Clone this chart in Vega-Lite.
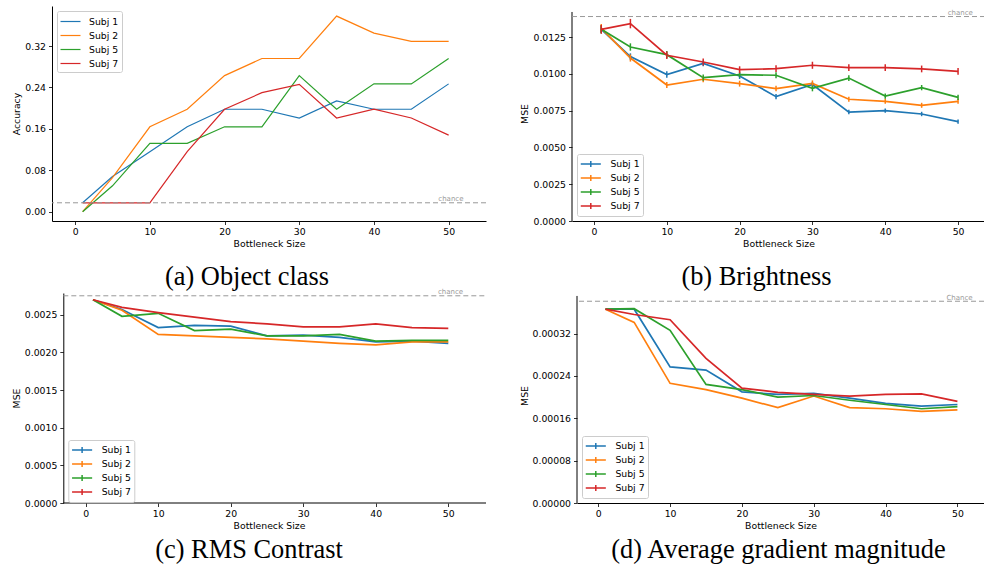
{
  "$schema": "https://vega.github.io/schema/vega-lite/v6.json",
  "padding": {"top": 6, "left": 12, "right": 0, "bottom": 0},
  "background": "white",
  "config": {
    "view": {"stroke": null},
    "font": "DejaVu Sans",
    "axis": {"labelFont": "DejaVu Sans", "labelFontSize": 9.3, "labelColor": "#000", "titleFont": "DejaVu Sans", "titleFontSize": 9.3, "titleFontWeight": "normal", "titleColor": "#000", "domainColor": "#000", "tickColor": "#000", "tickSize": 3.5, "grid": false, "labelPadding": 3, "titlePadding": 3, "domainWidth": 1, "tickWidth": 0.8},
    "legend": {"labelFont": "DejaVu Sans", "labelFontSize": 9.3, "labelColor": "#000", "strokeColor": "#cccccc", "fillColor": "#ffffff", "cornerRadius": 2, "padding": 3, "offset": 5, "rowPadding": 1, "labelOffset": 11, "symbolOffset": 3, "symbolStrokeWidth": 1.5},
    "title": {"font": "Liberation Serif", "fontSize": 26.4, "fontWeight": "normal", "color": "#000", "orient": "bottom", "offset": 15}
  },
  "datasets": {
    "a": [
      {"x": 1, "subj": "Subj 1", "v": 0.0172}, {"x": 5, "subj": "Subj 1", "v": 0.068}, {"x": 10, "subj": "Subj 1", "v": 0.116}, {"x": 15, "subj": "Subj 1", "v": 0.164}, {"x": 20, "subj": "Subj 1", "v": 0.198}, {"x": 25, "subj": "Subj 1", "v": 0.198}, {"x": 30, "subj": "Subj 1", "v": 0.181}, {"x": 35, "subj": "Subj 1", "v": 0.214}, {"x": 40, "subj": "Subj 1", "v": 0.198}, {"x": 45, "subj": "Subj 1", "v": 0.198}, {"x": 50, "subj": "Subj 1", "v": 0.247},
      {"x": 1, "subj": "Subj 2", "v": 0.0}, {"x": 5, "subj": "Subj 2", "v": 0.066}, {"x": 10, "subj": "Subj 2", "v": 0.164}, {"x": 15, "subj": "Subj 2", "v": 0.198}, {"x": 20, "subj": "Subj 2", "v": 0.263}, {"x": 25, "subj": "Subj 2", "v": 0.296}, {"x": 30, "subj": "Subj 2", "v": 0.296}, {"x": 35, "subj": "Subj 2", "v": 0.378}, {"x": 40, "subj": "Subj 2", "v": 0.345}, {"x": 45, "subj": "Subj 2", "v": 0.329}, {"x": 50, "subj": "Subj 2", "v": 0.329},
      {"x": 1, "subj": "Subj 5", "v": 0.0}, {"x": 5, "subj": "Subj 5", "v": 0.05}, {"x": 10, "subj": "Subj 5", "v": 0.132}, {"x": 15, "subj": "Subj 5", "v": 0.132}, {"x": 20, "subj": "Subj 5", "v": 0.164}, {"x": 25, "subj": "Subj 5", "v": 0.164}, {"x": 30, "subj": "Subj 5", "v": 0.263}, {"x": 35, "subj": "Subj 5", "v": 0.198}, {"x": 40, "subj": "Subj 5", "v": 0.247}, {"x": 45, "subj": "Subj 5", "v": 0.247}, {"x": 50, "subj": "Subj 5", "v": 0.296},
      {"x": 1, "subj": "Subj 7", "v": 0.0172}, {"x": 5, "subj": "Subj 7", "v": 0.0172}, {"x": 10, "subj": "Subj 7", "v": 0.0172}, {"x": 15, "subj": "Subj 7", "v": 0.116}, {"x": 20, "subj": "Subj 7", "v": 0.198}, {"x": 25, "subj": "Subj 7", "v": 0.23}, {"x": 30, "subj": "Subj 7", "v": 0.246}, {"x": 35, "subj": "Subj 7", "v": 0.181}, {"x": 40, "subj": "Subj 7", "v": 0.198}, {"x": 45, "subj": "Subj 7", "v": 0.181}, {"x": 50, "subj": "Subj 7", "v": 0.148}
    ],
    "b": [
      {"x": 1, "subj": "Subj 1", "v": 0.01302, "err": 0.00025}, {"x": 5, "subj": "Subj 1", "v": 0.01117, "err": 0.00022}, {"x": 10, "subj": "Subj 1", "v": 0.00995, "err": 0.00022}, {"x": 15, "subj": "Subj 1", "v": 0.01071, "err": 0.0002}, {"x": 20, "subj": "Subj 1", "v": 0.00985, "err": 0.0002}, {"x": 25, "subj": "Subj 1", "v": 0.00845, "err": 0.00018}, {"x": 30, "subj": "Subj 1", "v": 0.00927, "err": 0.00018}, {"x": 35, "subj": "Subj 1", "v": 0.0074, "err": 0.00015}, {"x": 40, "subj": "Subj 1", "v": 0.0075, "err": 0.00015}, {"x": 45, "subj": "Subj 1", "v": 0.00727, "err": 0.00015}, {"x": 50, "subj": "Subj 1", "v": 0.00675, "err": 0.00014},
      {"x": 1, "subj": "Subj 2", "v": 0.0131, "err": 0.00028}, {"x": 5, "subj": "Subj 2", "v": 0.01107, "err": 0.00024}, {"x": 10, "subj": "Subj 2", "v": 0.00924, "err": 0.0002}, {"x": 15, "subj": "Subj 2", "v": 0.00963, "err": 0.0002}, {"x": 20, "subj": "Subj 2", "v": 0.00933, "err": 0.0002}, {"x": 25, "subj": "Subj 2", "v": 0.009, "err": 0.00018}, {"x": 30, "subj": "Subj 2", "v": 0.00935, "err": 0.0002}, {"x": 35, "subj": "Subj 2", "v": 0.00827, "err": 0.00017}, {"x": 40, "subj": "Subj 2", "v": 0.00813, "err": 0.00017}, {"x": 45, "subj": "Subj 2", "v": 0.00786, "err": 0.00017}, {"x": 50, "subj": "Subj 2", "v": 0.00813, "err": 0.00017},
      {"x": 1, "subj": "Subj 5", "v": 0.01302, "err": 0.00028}, {"x": 5, "subj": "Subj 5", "v": 0.01182, "err": 0.00025}, {"x": 10, "subj": "Subj 5", "v": 0.0113, "err": 0.00025}, {"x": 15, "subj": "Subj 5", "v": 0.00974, "err": 0.00022}, {"x": 20, "subj": "Subj 5", "v": 0.00995, "err": 0.0002}, {"x": 25, "subj": "Subj 5", "v": 0.0099, "err": 0.0002}, {"x": 30, "subj": "Subj 5", "v": 0.00901, "err": 0.0002}, {"x": 35, "subj": "Subj 5", "v": 0.00971, "err": 0.0002}, {"x": 40, "subj": "Subj 5", "v": 0.00849, "err": 0.00018}, {"x": 45, "subj": "Subj 5", "v": 0.00906, "err": 0.00018}, {"x": 50, "subj": "Subj 5", "v": 0.0084, "err": 0.00018},
      {"x": 1, "subj": "Subj 7", "v": 0.01302, "err": 0.0003}, {"x": 5, "subj": "Subj 7", "v": 0.01341, "err": 0.00032}, {"x": 10, "subj": "Subj 7", "v": 0.01126, "err": 0.00026}, {"x": 15, "subj": "Subj 7", "v": 0.0108, "err": 0.00024}, {"x": 20, "subj": "Subj 7", "v": 0.01028, "err": 0.00023}, {"x": 25, "subj": "Subj 7", "v": 0.01035, "err": 0.00023}, {"x": 30, "subj": "Subj 7", "v": 0.01058, "err": 0.00024}, {"x": 35, "subj": "Subj 7", "v": 0.01042, "err": 0.00023}, {"x": 40, "subj": "Subj 7", "v": 0.01042, "err": 0.00023}, {"x": 45, "subj": "Subj 7", "v": 0.01033, "err": 0.00023}, {"x": 50, "subj": "Subj 7", "v": 0.01017, "err": 0.00023}
    ],
    "c": [
      {"x": 1, "subj": "Subj 1", "v": 0.0027}, {"x": 5, "subj": "Subj 1", "v": 0.00257}, {"x": 10, "subj": "Subj 1", "v": 0.00233}, {"x": 15, "subj": "Subj 1", "v": 0.00236}, {"x": 20, "subj": "Subj 1", "v": 0.00235}, {"x": 25, "subj": "Subj 1", "v": 0.00222}, {"x": 30, "subj": "Subj 1", "v": 0.00223}, {"x": 35, "subj": "Subj 1", "v": 0.0022}, {"x": 40, "subj": "Subj 1", "v": 0.00214}, {"x": 45, "subj": "Subj 1", "v": 0.00215}, {"x": 50, "subj": "Subj 1", "v": 0.00212},
      {"x": 1, "subj": "Subj 2", "v": 0.0027}, {"x": 5, "subj": "Subj 2", "v": 0.00256}, {"x": 10, "subj": "Subj 2", "v": 0.00224}, {"x": 15, "subj": "Subj 2", "v": 0.00222}, {"x": 20, "subj": "Subj 2", "v": 0.0022}, {"x": 25, "subj": "Subj 2", "v": 0.00218}, {"x": 30, "subj": "Subj 2", "v": 0.00215}, {"x": 35, "subj": "Subj 2", "v": 0.00212}, {"x": 40, "subj": "Subj 2", "v": 0.0021}, {"x": 45, "subj": "Subj 2", "v": 0.00214}, {"x": 50, "subj": "Subj 2", "v": 0.00214},
      {"x": 1, "subj": "Subj 5", "v": 0.0027}, {"x": 5, "subj": "Subj 5", "v": 0.00248}, {"x": 10, "subj": "Subj 5", "v": 0.00252}, {"x": 15, "subj": "Subj 5", "v": 0.00229}, {"x": 20, "subj": "Subj 5", "v": 0.00231}, {"x": 25, "subj": "Subj 5", "v": 0.00222}, {"x": 30, "subj": "Subj 5", "v": 0.00222}, {"x": 35, "subj": "Subj 5", "v": 0.00224}, {"x": 40, "subj": "Subj 5", "v": 0.00215}, {"x": 45, "subj": "Subj 5", "v": 0.00216}, {"x": 50, "subj": "Subj 5", "v": 0.00216},
      {"x": 1, "subj": "Subj 7", "v": 0.0027}, {"x": 5, "subj": "Subj 7", "v": 0.0026}, {"x": 10, "subj": "Subj 7", "v": 0.00253}, {"x": 15, "subj": "Subj 7", "v": 0.00247}, {"x": 20, "subj": "Subj 7", "v": 0.00241}, {"x": 25, "subj": "Subj 7", "v": 0.00238}, {"x": 30, "subj": "Subj 7", "v": 0.00234}, {"x": 35, "subj": "Subj 7", "v": 0.00234}, {"x": 40, "subj": "Subj 7", "v": 0.00238}, {"x": 45, "subj": "Subj 7", "v": 0.00233}, {"x": 50, "subj": "Subj 7", "v": 0.00232}
    ],
    "d": [
      {"x": 1, "subj": "Subj 1", "v": 0.000366}, {"x": 5, "subj": "Subj 1", "v": 0.000366}, {"x": 10, "subj": "Subj 1", "v": 0.000257}, {"x": 15, "subj": "Subj 1", "v": 0.000251}, {"x": 20, "subj": "Subj 1", "v": 0.00021}, {"x": 25, "subj": "Subj 1", "v": 0.000205}, {"x": 30, "subj": "Subj 1", "v": 0.000207}, {"x": 35, "subj": "Subj 1", "v": 0.000198}, {"x": 40, "subj": "Subj 1", "v": 0.000188}, {"x": 45, "subj": "Subj 1", "v": 0.000183}, {"x": 50, "subj": "Subj 1", "v": 0.000186},
      {"x": 1, "subj": "Subj 2", "v": 0.000366}, {"x": 5, "subj": "Subj 2", "v": 0.000341}, {"x": 10, "subj": "Subj 2", "v": 0.000226}, {"x": 15, "subj": "Subj 2", "v": 0.000214}, {"x": 20, "subj": "Subj 2", "v": 0.000198}, {"x": 25, "subj": "Subj 2", "v": 0.00018}, {"x": 30, "subj": "Subj 2", "v": 0.000202}, {"x": 35, "subj": "Subj 2", "v": 0.00018}, {"x": 40, "subj": "Subj 2", "v": 0.000178}, {"x": 45, "subj": "Subj 2", "v": 0.000173}, {"x": 50, "subj": "Subj 2", "v": 0.000176},
      {"x": 1, "subj": "Subj 5", "v": 0.000366}, {"x": 5, "subj": "Subj 5", "v": 0.000367}, {"x": 10, "subj": "Subj 5", "v": 0.000326}, {"x": 15, "subj": "Subj 5", "v": 0.000224}, {"x": 20, "subj": "Subj 5", "v": 0.000214}, {"x": 25, "subj": "Subj 5", "v": 0.0002}, {"x": 30, "subj": "Subj 5", "v": 0.000203}, {"x": 35, "subj": "Subj 5", "v": 0.000194}, {"x": 40, "subj": "Subj 5", "v": 0.000186}, {"x": 45, "subj": "Subj 5", "v": 0.000178}, {"x": 50, "subj": "Subj 5", "v": 0.000182},
      {"x": 1, "subj": "Subj 7", "v": 0.000366}, {"x": 5, "subj": "Subj 7", "v": 0.000356}, {"x": 10, "subj": "Subj 7", "v": 0.000346}, {"x": 15, "subj": "Subj 7", "v": 0.000273}, {"x": 20, "subj": "Subj 7", "v": 0.000217}, {"x": 25, "subj": "Subj 7", "v": 0.000209}, {"x": 30, "subj": "Subj 7", "v": 0.000205}, {"x": 35, "subj": "Subj 7", "v": 0.000202}, {"x": 40, "subj": "Subj 7", "v": 0.000205}, {"x": 45, "subj": "Subj 7", "v": 0.000206}, {"x": 50, "subj": "Subj 7", "v": 0.000192}
    ]
  },
  "resolve": {"scale": {"color": "independent", "x": "independent", "y": "independent"}, "legend": {"color": "independent"}},
  "columns": 2,
  "align": "none",
  "spacing": {"row": -3, "column": 33},
  "concat": [
    {
      "width": 434, "height": 215,
      "title": {"text": "(a) Object class", "dx": -22},
      "layer": [
        {
          "data": {"name": "a"},
          "mark": {"type": "line", "strokeWidth": 1.2},
          "encoding": {
            "x": {"field": "x", "type": "quantitative", "scale": {"domain": [-3.1, 55], "nice": false, "zero": false}, "axis": {"title": "Bottleneck Size", "values": [0, 10, 20, 30, 40, 50], "format": "d"}},
            "y": {"field": "v", "type": "quantitative", "scale": {"domain": [-0.018, 0.3975], "nice": false, "zero": false}, "axis": {"title": "Accuracy", "values": [0, 0.08, 0.16, 0.24, 0.32], "format": ".2f"}},
            "color": {"field": "subj", "type": "nominal", "scale": {"domain": ["Subj 1", "Subj 2", "Subj 5", "Subj 7"], "range": ["#1f77b4", "#ff7f0e", "#2ca02c", "#d62728"]}, "legend": {"title": null, "orient": "top-left", "symbolType": "M-1.45,0L1.45,0", "symbolSize": 190, "symbolStrokeWidth": 1.2}}
          }
        },
        {
          "data": {"values": [{"chance": 0.0172, "label": "chance"}]},
          "mark": {"type": "rule", "strokeDash": [5, 3], "color": "#999999", "strokeWidth": 1},
          "encoding": {"y": {"field": "chance", "type": "quantitative"}}
        },
        {
          "data": {"values": [{"chance": 0.0172, "label": "chance"}]},
          "mark": {"type": "text", "fontSize": 7, "color": "#999999", "baseline": "bottom", "align": "center", "dy": -0.5},
          "encoding": {"x": {"datum": 50.3}, "y": {"field": "chance", "type": "quantitative"}, "text": {"field": "label"}}
        }
      ]
    },
    {
      "width": 413, "height": 215,
      "title": {"text": "(b) Brightness", "dx": -22},
      "layer": [
        {
          "data": {"name": "b"},
          "mark": {"type": "line", "strokeWidth": 1.7},
          "encoding": {
            "x": {"field": "x", "type": "quantitative", "scale": {"domain": [-3.02, 53.7], "nice": false, "zero": false}, "axis": {"title": "Bottleneck Size", "values": [0, 10, 20, 30, 40, 50], "format": "d"}},
            "y": {"field": "v", "type": "quantitative", "title": "MSE", "scale": {"domain": [0, 0.014606], "nice": false, "zero": false}, "axis": {"title": "MSE", "domain": false, "values": [0, 0.0025, 0.005, 0.0075, 0.01, 0.0125], "format": ".4f"}},
            "color": {"field": "subj", "type": "nominal", "scale": {"domain": ["Subj 1", "Subj 2", "Subj 5", "Subj 7"], "range": ["#1f77b4", "#ff7f0e", "#2ca02c", "#d62728"]}, "legend": {"title": null, "orient": "bottom-left", "symbolType": "M-1.64,0L1.64,0M0,-0.5L0,0.5", "symbolSize": 150, "labelOffset": 12.6, "symbolOffset": 3.8, "rowPadding": 0}}
          }
        },
        {
          "data": {"name": "b"},
          "mark": {"type": "errorbar", "thickness": 1.5},
          "encoding": {
            "x": {"field": "x", "type": "quantitative"},
            "y": {"field": "v", "type": "quantitative", "title": "MSE"},
            "yError": {"field": "err", "title": "MSE"},
            "color": {"field": "subj", "type": "nominal", "legend": null}
          }
        },
        {
          "data": {"values": [{"y0": 0, "y1": 0.0142}]},
          "mark": {"type": "rule", "color": "#000000", "strokeWidth": 1},
          "encoding": {"x": {"datum": -3.02}, "y": {"field": "y0", "type": "quantitative", "title": "MSE"}, "y2": {"field": "y1"}}
        },
        {
          "data": {"values": [{"chance": 0.01389, "label": "chance"}]},
          "mark": {"type": "rule", "strokeDash": [5, 3], "color": "#999999", "strokeWidth": 1},
          "encoding": {"y": {"field": "chance", "type": "quantitative", "title": "MSE"}}
        },
        {
          "data": {"values": [{"chance": 0.01389, "label": "chance"}]},
          "mark": {"type": "text", "fontSize": 7, "color": "#999999", "baseline": "bottom", "align": "center", "dy": -0.5},
          "encoding": {"x": {"datum": 50.3}, "y": {"field": "chance", "type": "quantitative", "title": "MSE"}, "text": {"field": "label"}}
        }
      ]
    },
    {
      "width": 434, "height": 210,
      "title": {"text": "(c) RMS Contrast", "dx": -20, "offset": 6},
      "layer": [
        {
          "data": {"name": "c"},
          "mark": {"type": "line", "strokeWidth": 1.7},
          "encoding": {
            "x": {"field": "x", "type": "quantitative", "scale": {"domain": [-4.65, 55.2], "nice": false, "zero": false}, "axis": {"title": "Bottleneck Size", "domain": false, "values": [0, 10, 20, 30, 40, 50], "format": "d"}},
            "y": {"field": "v", "type": "quantitative", "scale": {"domain": [0, 0.00279], "nice": false, "zero": false}, "axis": {"title": "MSE", "offset": -11.3, "values": [0, 0.0005, 0.001, 0.0015, 0.002, 0.0025], "format": ".4f"}},
            "color": {"field": "subj", "type": "nominal", "scale": {"domain": ["Subj 1", "Subj 2", "Subj 5", "Subj 7"], "range": ["#1f77b4", "#ff7f0e", "#2ca02c", "#d62728"]}, "legend": {"title": null, "orient": "none", "legendX": 16.3, "legendY": 147, "symbolType": "M-1.64,0L1.64,0M0,-0.5L0,0.5", "symbolSize": 150, "labelOffset": 12.6, "symbolOffset": 3.8, "rowPadding": 0}}
          }
        },
        {
          "data": {"values": [{"x0": -3.09, "x1": 55.2, "y0": 0}]},
          "mark": {"type": "rule", "color": "#000000", "strokeWidth": 1},
          "encoding": {"x": {"field": "x0", "type": "quantitative"}, "x2": {"field": "x1"}, "y": {"field": "y0", "type": "quantitative"}}
        },
        {
          "data": {"values": [{"chance": 0.002753, "label": "chance", "x0": -3.09, "x1": 55.2}]},
          "mark": {"type": "rule", "strokeDash": [5, 3], "color": "#999999", "strokeWidth": 1},
          "encoding": {"x": {"field": "x0", "type": "quantitative"}, "x2": {"field": "x1"}, "y": {"field": "chance", "type": "quantitative"}}
        },
        {
          "data": {"values": [{"chance": 0.002753, "label": "chance"}]},
          "mark": {"type": "text", "fontSize": 7, "color": "#999999", "baseline": "bottom", "align": "center", "dy": -0.5},
          "encoding": {"x": {"datum": 50.3}, "y": {"field": "chance", "type": "quantitative"}, "text": {"field": "label"}}
        }
      ]
    },
    {
      "width": 407, "height": 215,
      "title": {"text": "(d) Average gradient magnitude", "dx": -2, "offset": 6},
      "layer": [
        {
          "data": {"name": "d"},
          "mark": {"type": "line", "strokeWidth": 1.7},
          "encoding": {
            "x": {"field": "x", "type": "quantitative", "scale": {"domain": [-2.96, 53.7], "nice": false, "zero": false}, "axis": {"title": "Bottleneck Size", "values": [0, 10, 20, 30, 40, 50], "format": "d"}},
            "y": {"field": "v", "type": "quantitative", "scale": {"domain": [0, 0.000406], "nice": false, "zero": false}, "axis": {"title": "MSE", "domain": false, "values": [0, 0.00008, 0.00016, 0.00024, 0.00032], "format": ".5f"}},
            "color": {"field": "subj", "type": "nominal", "scale": {"domain": ["Subj 1", "Subj 2", "Subj 5", "Subj 7"], "range": ["#1f77b4", "#ff7f0e", "#2ca02c", "#d62728"]}, "legend": {"title": null, "orient": "bottom-left", "symbolType": "M-1.64,0L1.64,0M0,-0.5L0,0.5", "symbolSize": 150, "labelOffset": 12.6, "symbolOffset": 3.8, "rowPadding": 0}}
          }
        },
        {
          "data": {"values": [{"y0": 0, "y1": 0.000391}]},
          "mark": {"type": "rule", "color": "#000000", "strokeWidth": 1},
          "encoding": {"x": {"datum": -2.96}, "y": {"field": "y0", "type": "quantitative"}, "y2": {"field": "y1"}}
        },
        {
          "data": {"values": [{"chance": 0.000381, "label": "Chance"}]},
          "mark": {"type": "rule", "strokeDash": [5, 3], "color": "#999999", "strokeWidth": 1},
          "encoding": {"y": {"field": "chance", "type": "quantitative"}}
        },
        {
          "data": {"values": [{"chance": 0.000381, "label": "Chance"}]},
          "mark": {"type": "text", "fontSize": 7, "color": "#999999", "baseline": "bottom", "align": "center", "dy": -0.5},
          "encoding": {"x": {"datum": 50.3}, "y": {"field": "chance", "type": "quantitative"}, "text": {"field": "label"}}
        }
      ]
    }
  ]
}
